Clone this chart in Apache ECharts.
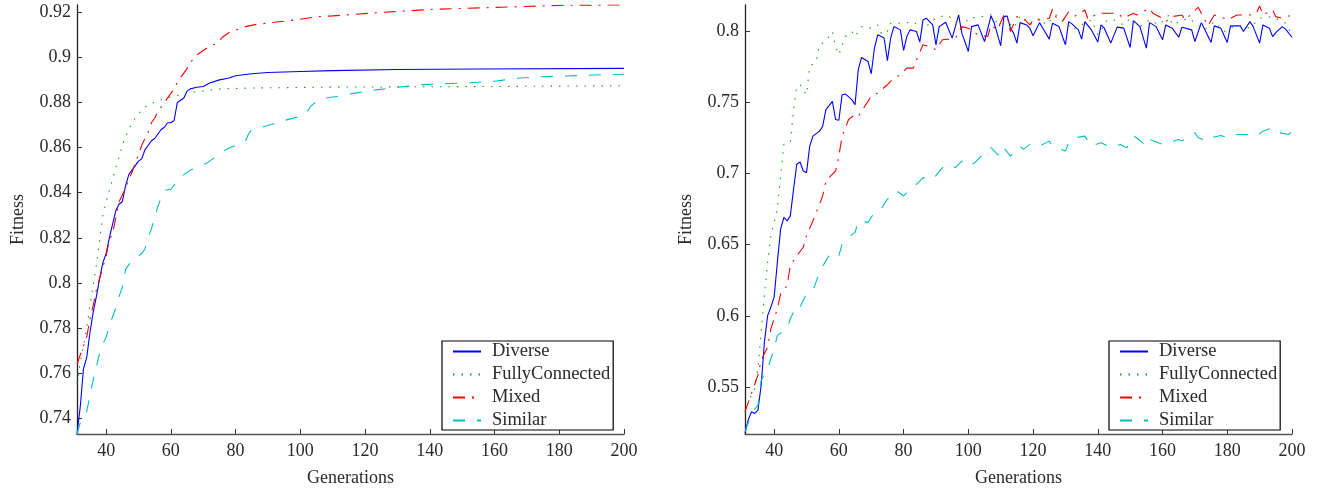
<!DOCTYPE html>
<html>
<head>
<meta charset="utf-8">
<script src="https://cdn.jsdelivr.net/npm/echarts@6/dist/echarts.min.js"></script>
<style>html,body{margin:0;padding:0;background:#fff}#c{width:1327px;height:492px}</style>
</head>
<body>
<div id="c"></div>
<script>
// ---- tick labels ----
const xTicks = [40, 60, 80, 100, 120, 140, 160, 180, 200];
const leftYTicks = [0.74, 0.76, 0.78, 0.8, 0.82, 0.84, 0.86, 0.88, 0.9, 0.92];
const rightYTicks = [0.55, 0.6, 0.65, 0.7, 0.75, 0.8];
const seriesNames = ['Diverse', 'FullyConnected', 'Mixed', 'Similar'];

// ---- left chart: [generation, fitness] ----
const leftDiverse = [[31,0.733],[32,0.745],[33,0.762],[34,0.767],[35,0.778],[36,0.787],[37,0.794],[38,0.802],[39,0.809],[40,0.813],[41,0.820],[42,0.826],[43,0.832],[44,0.835],[45,0.836],[46,0.843],[47,0.848],[48,0.850],[49,0.852],[50,0.854],[51,0.855],[52,0.859],[53,0.861],[54,0.863],[55,0.864],[56,0.866],[57,0.868],[58,0.869],[59,0.871],[60,0.871],[61,0.872],[62,0.880],[63,0.881],[64,0.882],[65,0.885],[66,0.886],[68,0.8867],[70,0.8871],[72,0.8886],[75,0.890],[78,0.8908],[80,0.8918],[85,0.8927],[90,0.8933],[100,0.8937],[110,0.8941],[130,0.8946],[155,0.8948],[200,0.8951]];
const leftFully = [[31,0.755],[32,0.765],[33,0.772],[34,0.780],[35,0.790],[36,0.799],[37,0.808],[38,0.819],[39,0.830],[40,0.836],[41,0.841],[42,0.846],[43,0.851],[44,0.856],[45,0.861],[46,0.865],[47,0.868],[48,0.871],[49,0.873],[50,0.875],[52,0.878],[54,0.8795],[56,0.8807],[58,0.8817],[60,0.8825],[63,0.8834],[66,0.8843],[69,0.8849],[75,0.886],[85,0.8864],[110,0.8868],[150,0.8870],[200,0.8874]];
const leftMixed = [[31,0.764],[32,0.768],[33,0.772],[34,0.776],[35,0.784],[36,0.790],[37,0.797],[38,0.802],[39,0.807],[40,0.812],[41,0.819],[42,0.822],[43,0.829],[44,0.836],[45,0.839],[46,0.842],[47,0.846],[48,0.849],[49,0.853],[50,0.857],[51,0.861],[52,0.864],[53,0.867],[54,0.871],[55,0.873],[56,0.876],[57,0.878],[58,0.880],[59,0.882],[60,0.884],[61,0.886],[62,0.889],[63,0.891],[64,0.893],[65,0.895],[66,0.898],[67,0.899],[68,0.901],[70,0.903],[72,0.905],[74,0.906],[76,0.909],[78,0.911],[80,0.912],[83,0.9136],[86,0.9145],[90,0.9152],[95,0.916],[100,0.9169],[105,0.918],[110,0.9184],[124,0.9198],[141,0.9213],[162,0.9222],[182,0.9231],[200,0.9232]];
const leftSimilar = [[31,0.733],[32,0.738],[33,0.741],[34,0.743],[35,0.750],[36,0.757],[37,0.763],[38,0.769],[39,0.773],[40,0.776],[41,0.781],[42,0.785],[43,0.789],[44,0.794],[45,0.798],[46,0.806],[47,0.808],[48,0.810],[49,0.811],[50,0.812],[51,0.813],[52,0.815],[53,0.820],[54,0.824],[55,0.829],[56,0.834],[57,0.838],[58,0.841],[60,0.8415],[62,0.845],[64,0.848],[66,0.850],[68,0.851],[71,0.853],[74,0.856],[77,0.8591],[80,0.861],[83,0.8628],[84,0.866],[85,0.868],[88,0.869],[91,0.8702],[95,0.872],[99,0.8735],[102,0.8754],[103,0.878],[105,0.8805],[108,0.882],[112,0.8828],[116,0.8839],[124,0.8857],[130,0.8867],[138,0.8879],[146,0.8884],[152,0.8887],[160,0.8894],[167,0.8907],[174,0.8914],[181,0.8917],[188,0.892],[196,0.8924],[200,0.8925]];

// ---- right chart: [generation, fitness] ----
const rightDiverse = [[31,0.5173],[32,0.5267],[33,0.5325],[34,0.5313],[35,0.5336],[36,0.5511],[37,0.5816],[38,0.6002],[39,0.6061],[40,0.6131],[41,0.6376],[42,0.661],[43,0.6692],[44,0.6668],[45,0.6703],[46,0.689],[47,0.7066],[48,0.7082],[49,0.7019],[50,0.7007],[51,0.7194],[52,0.7264],[54,0.7299],[55,0.7334],[56,0.7451],[58,0.7509],[59,0.7381],[60,0.7376],[61,0.7556],[62,0.7561],[64,0.7521],[65,0.7486],[66,0.7732],[67,0.7818],[69,0.779],[70,0.7703],[71,0.7884],[72,0.7977],[74,0.7954],[75,0.7795],[76,0.7954],[77,0.8035],[79,0.8012],[80,0.7867],[81,0.7965],[82,0.8012],[84,0.8],[85,0.7926],[86,0.8082],[87,0.8094],[89,0.8047],[90,0.7907],[91,0.8035],[93,0.8066],[95,0.7954],[97,0.8117],[98,0.7989],[100,0.786],[101,0.8035],[103,0.8047],[105,0.793],[107,0.811],[108,0.806],[110,0.790],[111,0.8105],[112,0.811],[113,0.8024],[114,0.7989],[115,0.7919],[116,0.8063],[118,0.8047],[119,0.8024],[120,0.797],[122,0.8063],[123,0.8024],[125,0.7947],[126,0.8059],[128,0.8035],[130,0.7907],[131,0.807],[132,0.8054],[134,0.8012],[135,0.7947],[136,0.807],[138,0.8012],[140,0.7926],[141,0.8047],[142,0.8024],[144,0.7919],[146,0.8031],[148,0.8024],[150,0.7888],[151,0.8077],[153,0.8035],[155,0.7884],[156,0.8063],[158,0.8035],[160,0.7942],[161,0.8047],[163,0.8024],[165,0.796],[166,0.8031],[169,0.8012],[170,0.793],[172,0.8063],[173,0.8017],[175,0.7923],[176,0.804],[178,0.8024],[180,0.7923],[181,0.804],[184,0.804],[185,0.8],[187,0.807],[188,0.8035],[190,0.7919],[191,0.8047],[193,0.8024],[194,0.7965],[195,0.7993],[197,0.8035],[198,0.8017],[200,0.796]];
const rightFully = [[31,0.5313],[32,0.5395],[34,0.5488],[35,0.5628],[36,0.5886],[37,0.6142],[38,0.6376],[39,0.6563],[41,0.675],[42,0.6983],[43,0.7206],[45,0.7218],[46,0.7451],[47,0.7614],[48,0.7626],[50,0.7556],[51,0.7755],[53,0.779],[54,0.7907],[55,0.7919],[57,0.7965],[58,0.8],[59,0.7895],[60,0.7837],[62,0.7965],[64,0.8],[65,0.7965],[67,0.8035],[70,0.8024],[72,0.8047],[74,0.7942],[76,0.8059],[80,0.8059],[83,0.807],[86,0.8012],[89,0.8082],[93,0.8117],[95,0.8094],[98,0.8024],[100,0.8094],[104,0.8105],[107,0.8117],[109,0.8059],[112,0.8075],[114,0.8024],[116,0.8112],[119,0.8047],[122,0.8094],[124,0.8047],[127,0.8117],[130,0.8082],[132,0.8012],[135,0.8047],[138,0.8082],[140,0.7977],[143,0.8082],[145,0.8082],[148,0.8047],[150,0.8094],[153,0.8035],[156,0.8082],[159,0.8047],[162,0.8117],[163,0.8047],[168,0.8094],[173,0.8012],[176,0.807],[179,0.800],[183,0.8047],[187,0.8024],[190,0.8094],[194,0.8105],[198,0.8059],[200,0.7977]];
const rightMixed = [[31,0.5325],[33,0.5453],[35,0.5582],[36,0.5687],[38,0.5781],[39,0.5909],[41,0.6049],[42,0.6154],[44,0.6212],[45,0.6353],[47,0.6423],[49,0.6482],[50,0.6563],[52,0.6668],[53,0.6727],[55,0.6843],[56,0.6949],[57,0.6972],[59,0.7019],[60,0.7124],[61,0.7264],[63,0.7381],[65,0.7416],[66,0.7404],[68,0.7474],[70,0.7544],[72,0.7568],[75,0.7626],[77,0.7673],[79,0.7696],[81,0.7743],[83,0.7743],[84,0.7802],[86,0.7907],[88,0.7895],[90,0.7872],[92,0.7942],[94,0.7947],[96,0.7954],[98,0.8035],[100,0.8024],[103,0.7977],[106,0.7965],[107,0.8047],[109,0.8012],[111,0.8117],[112,0.811],[113,0.800],[115,0.8105],[117,0.8094],[119,0.8047],[120,0.8082],[123,0.8082],[125,0.8094],[126,0.8157],[127,0.8105],[129,0.807],[131,0.814],[133,0.811],[136,0.8152],[137,0.8087],[140,0.8129],[142,0.8129],[146,0.8129],[148,0.8094],[151,0.8129],[152,0.8117],[156,0.8164],[157,0.8129],[160,0.8094],[161,0.807],[163,0.8105],[166,0.8117],[167,0.8082],[171,0.8171],[172,0.8129],[174,0.804],[176,0.8117],[179,0.8094],[180,0.8082],[183,0.8117],[185,0.8117],[187,0.8117],[189,0.8129],[190,0.818],[191,0.8117],[194,0.8152],[195,0.8105],[197,0.8094],[200,0.8117]];
const rightSimilar = [[31,0.5185],[33,0.5313],[35,0.5371],[36,0.5546],[38,0.5628],[40,0.5769],[41,0.5862],[44,0.5909],[45,0.5979],[47,0.6072],[48,0.6061],[50,0.6154],[52,0.6177],[54,0.6306],[56,0.6388],[57,0.6423],[58,0.6446],[60,0.6423],[61,0.6505],[62,0.654],[65,0.6587],[66,0.6668],[69,0.6657],[71,0.6727],[73,0.675],[75,0.682],[78,0.6878],[80,0.6843],[82,0.689],[84,0.6925],[86,0.6972],[89,0.696],[92,0.7042],[94,0.7066],[96,0.7042],[98,0.7089],[100,0.7054],[102,0.7077],[105,0.7147],[107,0.7183],[109,0.7136],[110,0.7124],[111,0.7183],[113,0.7124],[116,0.7194],[117,0.7171],[119,0.7206],[122,0.7194],[125,0.7229],[126,0.7194],[130,0.7159],[131,0.7218],[133,0.7253],[136,0.7264],[138,0.7194],[141,0.7218],[144,0.7183],[147,0.7206],[149,0.7183],[151,0.7264],[152,0.7253],[155,0.7194],[156,0.7241],[160,0.7206],[162,0.7218],[165,0.7241],[166,0.7229],[170,0.7288],[171,0.7253],[174,0.7229],[175,0.7253],[178,0.7269],[180,0.7253],[183,0.7276],[186,0.7276],[189,0.7264],[191,0.7299],[194,0.7323],[196,0.7288],[199,0.7276],[200,0.7299]];

const FONT = '"Liberation Serif", "Times New Roman", serif';
const TXT = '#2a2a2a';
const fmt = v => String(+(+v).toFixed(2));

const styles = [
  {color: '#0000ff', type: 'solid'},
  {color: '#1a9a1a', type: [1.5, 7]},
  {color: '#ff0000', type: [12, 7, 2, 7]},
  {color: '#00bfbf', type: [12, 12]}
];

function xAxis(gi) {
  return {
    type: 'value', gridIndex: gi, min: 31, max: 200,
    name: 'Generations', nameLocation: 'middle', nameGap: 35,
    nameTextStyle: {fontFamily: FONT, fontSize: 18, color: TXT},
    axisLine: {show: true, lineStyle: {color: '#555', width: 1.3}},
    axisTick: {show: true, inside: true, length: 5, customValues: xTicks, lineStyle: {color: '#333'}},
    axisLabel: {customValues: xTicks, fontFamily: FONT, fontSize: 18, color: TXT, margin: 8, formatter: fmt},
    splitLine: {show: false}
  };
}
function yAxis(gi, min, max, ticks) {
  return {
    type: 'value', gridIndex: gi, min: min, max: max,
    name: 'Fitness', nameLocation: 'middle', nameRotate: 90, nameGap: 50,
    nameTextStyle: {fontFamily: FONT, fontSize: 18, color: TXT},
    axisLine: {show: true, lineStyle: {color: '#222', width: 1.3}},
    axisTick: {show: true, inside: true, length: 5, customValues: ticks, lineStyle: {color: '#333'}},
    axisLabel: {customValues: ticks, fontFamily: FONT, fontSize: 18, color: TXT, margin: 6, formatter: fmt},
    splitLine: {show: false}
  };
}
function mkSeries(name, data, idx, gi) {
  return {
    name: name, type: 'line', xAxisIndex: gi, yAxisIndex: gi, data: data,
    symbol: 'none', showSymbol: false, smooth: false,
    lineStyle: {width: 1.1, color: styles[idx].color, type: styles[idx].type},
    itemStyle: {color: styles[idx].color},
    emphasis: {disabled: true}
  };
}
function legend(left) {
  return {
    data: seriesNames, orient: 'vertical', left: left, top: 341,
    padding: [1, 3, 0, 10], itemWidth: 28, itemHeight: 14, itemGap: 4,
    borderColor: '#000', borderWidth: 1.2, backgroundColor: '#fff',
    itemStyle: {color: 'rgba(0,0,0,0)', borderColor: 'rgba(0,0,0,0)', borderWidth: 0, opacity: 0},
    textStyle: {fontFamily: FONT, fontSize: 18.5, lineHeight: 19, color: TXT, padding: [0, 0, 0, 6]},
    selectedMode: false
  };
}

const chart = echarts.init(document.getElementById('c'), null, {renderer: 'canvas'});
chart.setOption({
  animation: false,
  backgroundColor: '#fff',
  grid: [
    {left: 77, top: 5, width: 547, height: 431},
    {left: 745, top: 5, width: 547, height: 431}
  ],
  xAxis: [xAxis(0), xAxis(1)],
  yAxis: [yAxis(0, 0.733, 0.9232, leftYTicks), yAxis(1, 0.5168, 0.8187, rightYTicks)],
  legend: [legend(442), legend(1109)],
  series: [
    mkSeries('Diverse', leftDiverse, 0, 0),
    mkSeries('FullyConnected', leftFully, 1, 0),
    mkSeries('Mixed', leftMixed, 2, 0),
    mkSeries('Similar', leftSimilar, 3, 0),
    mkSeries('Diverse', rightDiverse, 0, 1),
    mkSeries('FullyConnected', rightFully, 1, 1),
    mkSeries('Mixed', rightMixed, 2, 1),
    mkSeries('Similar', rightSimilar, 3, 1)
  ]
});
</script>
</body>
</html>
